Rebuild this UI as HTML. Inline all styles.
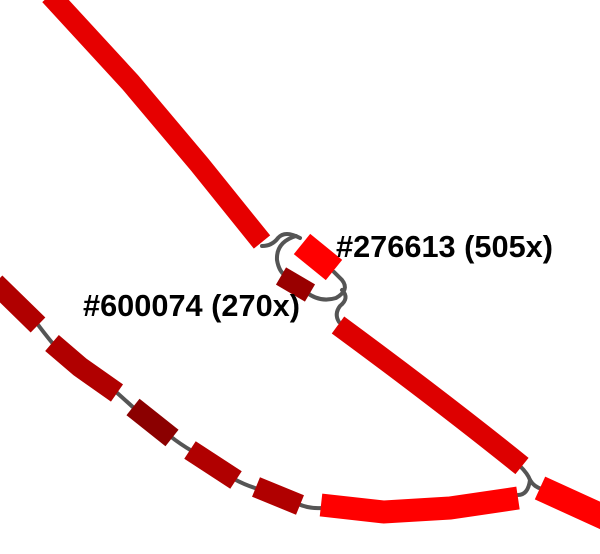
<!DOCTYPE html>
<html><head><meta charset="utf-8"><style>
html,body{margin:0;padding:0;background:#fff;width:600px;height:554px;overflow:hidden}
svg{display:block}
text{font-family:"Liberation Sans",sans-serif;font-weight:bold;font-size:31px;fill:#000}
</style></head><body>
<svg width="600" height="554" viewBox="0 0 600 554">
<g fill="none" stroke="#555" stroke-width="4" stroke-linecap="round">
<path d="M36,322 Q44,333 54,345"/>
<path d="M115,391 Q124,399 135,409"/>
<path d="M170,436 Q180,444 192,451"/>
<path d="M234,479 Q245,485 258,489"/>
<path d="M298,504 Q310,509 322,508"/>
<path d="M262,246 Q272,246 278,238 Q285,230 300,238"/>
<path d="M296,236 Q276,242 277,260 Q279,272 286,276"/>
<path d="M306,292 Q320,303 336,298 Q350,290 342,280 Q338,276 334,272"/>
<path d="M342,290 Q350,298 340,306 Q334,314 339,322"/>
<path d="M520,466 Q528,474 530,480 Q534,487 542,489"/>
<path d="M518,495 Q528,495 530,480"/>
</g>
<g fill="none" stroke-linecap="butt">
<path d="M50,-5 L130,82 L200,165 L262,242" stroke="#e60000" stroke-width="21"/>
<path d="M302,244 L334,270" stroke="#ff0000" stroke-width="26"/>
<path d="M281,276 L310,293" stroke="#990000" stroke-width="20"/>
<path d="M338,325 Q440,400 522,466" stroke="#dd0000" stroke-width="21"/>
<path d="M540,488 L610,520" stroke="#ff0000" stroke-width="25"/>
<path d="M321,505 L384,512 L450,508 L518,498" stroke="#ff0000" stroke-width="23"/>
<path d="M-5,283 L38,325" stroke="#b00000" stroke-width="21"/>
<path d="M52,343 L80,367 L117,393" stroke="#b00000" stroke-width="21"/>
<path d="M133,407 L172,438" stroke="#8b0000" stroke-width="21"/>
<path d="M190,450 L236,480" stroke="#b00000" stroke-width="21"/>
<path d="M256,487 L300,505" stroke="#b00000" stroke-width="21"/>
</g>
<text x="336" y="257" textLength="217" lengthAdjust="spacingAndGlyphs">#276613 (505x)</text>
<text x="83" y="316" textLength="217" lengthAdjust="spacingAndGlyphs">#600074 (270x)</text>
</svg>
</body></html>
